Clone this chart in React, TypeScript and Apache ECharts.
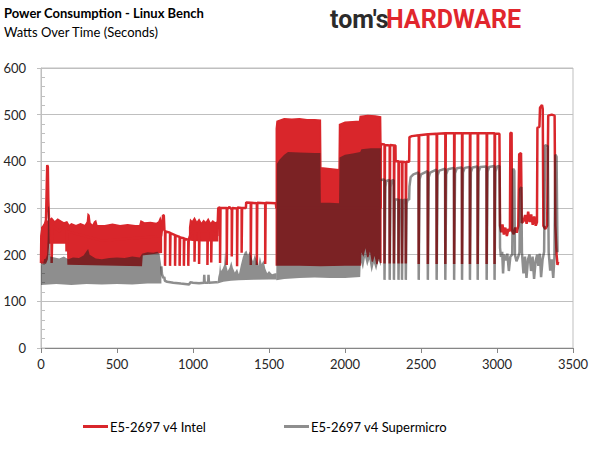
import React, { useEffect, useRef } from "react";
import * as echarts from "echarts";

const RED = "#d9262b";
const GRAY = "rgba(29,29,29,0.5)";
const INTEL = "E5-2697 v4 Intel";
const SUPER = "E5-2697 v4 Supermicro";

const xTicks = [0, 500, 1000, 1500, 2000, 2500, 3000, 3500];
const yTicks = [0, 100, 200, 300, 400, 500, 600];

// ---- Intel (red) ----
const intelLine = [
  [0, 182], [2, 240], [10, 258], [25, 262], [33, 275], [38, 350], [41, 392], [45, 388], [48, 320], [52, 280], [58, 262],
  [68, 262], [70, 182], [73, 182], [75, 262], [120, 250],
  [166, 262], [168, 207], [171, 207], [173, 250], [400, 230], [790, 240],
  [798, 260], [803, 285], [808, 284], [812, 252],
  [816, 250], [816, 176], [819, 176], [819, 250],
  [849, 247], [849, 176], [852, 176], [852, 246],
  [882, 242], [882, 176], [885, 176], [885, 241],
  [912, 238], [912, 176], [915, 176], [915, 237],
  [940, 235], [940, 176], [943, 176], [943, 234],
  [969, 232], [969, 176], [972, 176], [972, 232],
  [980, 240],
  [1010, 250], [1010, 185], [1013, 185], [1013, 250],
  [1040, 250], [1040, 180], [1043, 180], [1043, 250],
  [1095, 250], [1095, 178], [1098, 178], [1098, 250],
  [1120, 250], [1120, 183], [1123, 183], [1123, 250],
  [1160, 240], [1164, 240], [1166, 300],
  [1178, 301], [1178, 182], [1181, 182], [1181, 300],
  [1222, 300], [1222, 178], [1225, 178], [1225, 298],
  [1240, 302], [1255, 297], [1255, 196], [1258, 196], [1258, 300],
  [1290, 299], [1290, 175], [1293, 175], [1293, 301],
  [1320, 300], [1320, 204], [1323, 204], [1323, 300],
  [1348, 300], [1350, 312],
  [1380, 311], [1380, 178], [1383, 178], [1383, 311],
  [1420, 310], [1420, 178], [1423, 178], [1423, 311],
  [1475, 310], [1475, 180], [1478, 180], [1478, 311],
  [1545, 310], [1548, 300], [2235, 300], [2236, 437],
  [2260, 436], [2260, 181], [2263, 181], [2263, 435],
  [2294, 434], [2294, 181], [2297, 181], [2297, 435],
  [2322, 434], [2322, 181], [2325, 181], [2325, 434],
  [2332, 434], [2333, 400],
  [2352, 400], [2352, 181], [2355, 181], [2355, 399],
  [2375, 399], [2375, 181], [2378, 181], [2378, 399],
  [2400, 398], [2400, 181], [2403, 181], [2403, 399],
  [2422, 399], [2424, 452], [2440, 454],
  [2485, 456], [2485, 180], [2488, 180], [2488, 456],
  [2545, 458], [2545, 180], [2548, 180], [2548, 458],
  [2603, 459], [2603, 180], [2606, 180], [2606, 459],
  [2660, 460], [2660, 180], [2663, 180], [2663, 460],
  [2718, 460], [2718, 180], [2721, 180], [2721, 460],
  [2770, 460], [2770, 180], [2773, 180], [2773, 460],
  [2822, 460], [2822, 180], [2825, 180], [2825, 460],
  [2873, 460], [2873, 180], [2876, 180], [2876, 460],
  [2932, 460], [2932, 180], [2935, 180], [2935, 460],
  [2984, 460], [2984, 180], [2987, 180], [2987, 459],
  [3016, 459], [3020, 262],
  [3028, 248], [3036, 265], [3045, 243], [3055, 258], [3065, 240], [3075, 255], [3085, 250],
  [3088, 460], [3096, 462], [3099, 252],
  [3110, 244], [3120, 258], [3130, 247], [3140, 262],
  [3146, 415], [3158, 418], [3163, 268],
  [3175, 272], [3185, 285], [3195, 266], [3205, 292], [3215, 270], [3225, 286], [3235, 264], [3245, 282], [3255, 262],
  [3263, 270], [3266, 472], [3279, 474], [3283, 515], [3296, 521], [3301, 512], [3305, 262],
  [3318, 255], [3330, 262], [3337, 498], [3360, 500], [3379, 498], [3384, 262], [3392, 200], [3398, 178], [3402, 185],
];

const intelBand1Top = [
  [0, 250], [5, 258], [15, 262], [30, 270], [36, 270], [55, 274], [70, 278], [90, 270], [110, 276], [130, 272],
  [150, 268], [170, 270], [185, 262], [200, 266], [230, 262], [260, 266], [290, 262], [305, 270], [310, 286],
  [316, 284], [322, 268], [340, 262], [352, 270], [360, 272], [368, 262], [420, 262], [470, 265], [520, 262],
  [570, 264], [620, 262], [650, 262], [658, 272], [680, 268], [720, 269], [760, 267], [775, 270], [785, 278], [792, 272],
];
const intelBand1Bottom = [
  [0, 182], [30, 182], [40, 190], [50, 225], [175, 225], [178, 180], [660, 177], [665, 200], [792, 205],
];
const intelBand2Top = [
  [978, 258], [984, 274], [995, 270], [1010, 278], [1025, 268], [1040, 275], [1055, 266], [1070, 273],
  [1085, 268], [1100, 276], [1115, 266], [1130, 272], [1145, 268], [1160, 270], [1162, 250],
];
const intelBand2Bottom = [[978, 232], [1000, 231], [1060, 230], [1162, 230]];
const intelBand3Top = [
  [1548, 470], [1553, 486], [1600, 491], [1650, 490], [1700, 491], [1750, 489], [1800, 489], [1838, 488],
  [1841, 386], [1900, 384], [1961, 382], [1964, 479], [2000, 484], [2050, 485], [2096, 486], [2100, 496],
  [2150, 498], [2200, 497], [2234, 495], [2236, 440],
];
const intelBand3Bottom = [
  [1548, 178], [1700, 178], [1840, 177], [2000, 178], [2100, 178], [2104, 212], [2120, 200], [2135, 222],
  [2150, 195], [2165, 215], [2180, 185], [2195, 205], [2210, 180], [2222, 200], [2236, 182],
];

// ---- Supermicro (gray) ----
const superBand1Top = [
  [0, 175], [6, 188], [12, 178], [20, 190], [32, 192], [40, 200], [44, 235], [47, 302], [53, 304], [56, 235],
  [60, 196], [90, 194], [120, 192], [150, 196], [180, 190], [210, 194], [250, 193], [280, 198], [300, 208],
  [310, 212], [320, 200], [360, 192], [400, 190], [450, 193], [500, 194], [550, 193], [600, 196], [650, 194],
  [665, 202], [700, 205], [740, 204], [765, 206], [780, 202], [792, 175],
];
const superBand1Bottom = [
  [0, 135], [100, 137], [200, 135], [300, 137], [400, 136], [500, 137], [600, 136], [700, 138], [792, 138],
];
const superLineA = [
  [792, 175], [796, 158], [805, 150], [811, 152], [815, 144], [830, 142], [870, 140], [920, 138], [975, 136],
  [982, 141], [1000, 140], [1040, 139], [1072, 140], [1074, 157], [1077, 140], [1100, 140], [1102, 157],
  [1105, 140], [1150, 141], [1162, 141],
];
const superBand2Top = [
  [1162, 141], [1166, 152], [1172, 160], [1178, 182], [1184, 165], [1195, 170], [1205, 178], [1211, 207],
  [1217, 180], [1228, 165], [1240, 172], [1252, 186], [1262, 172], [1275, 162], [1290, 170], [1302, 158],
  [1315, 178], [1328, 195], [1340, 205], [1352, 209], [1362, 198], [1372, 207], [1384, 194], [1395, 186],
  [1406, 200], [1418, 188], [1430, 176], [1440, 196], [1452, 180], [1464, 188], [1476, 170], [1488, 160],
  [1500, 165], [1520, 158], [1540, 160], [1548, 160],
];
const superBand2Bottom = [
  [1162, 138], [1200, 142], [1250, 144], [1300, 145], [1400, 146], [1500, 147], [1548, 147],
];
const superBand3Top = [
  [1548, 160], [1552, 395], [1570, 404], [1600, 414], [1625, 420], [1700, 419], [1800, 418], [1838, 418],
  [1841, 311], [1900, 311], [1961, 310], [1964, 408], [2000, 414], [2050, 417], [2100, 420], [2108, 426],
  [2170, 428], [2236, 428],
];
const superBand3Bottom = [
  [1548, 145], [1600, 148], [1700, 150], [1800, 151], [1900, 150], [2000, 150], [2100, 152], [2104, 185],
  [2118, 168], [2132, 195], [2146, 175], [2160, 190], [2175, 162], [2190, 182], [2205, 166], [2220, 188], [2236, 175],
];
const superLineB = [
  [2236, 360], [2258, 361], [2260, 146], [2264, 146], [2266, 345], [2272, 358], [2292, 360], [2294, 146],
  [2298, 146], [2300, 345], [2306, 358], [2320, 360], [2322, 146], [2326, 146], [2328, 318],
  [2350, 318], [2352, 146], [2356, 146], [2358, 308], [2364, 317], [2373, 318], [2375, 146], [2379, 146],
  [2381, 308], [2387, 317], [2398, 318], [2400, 146], [2404, 146], [2406, 310], [2412, 318], [2422, 318],
  [2424, 346], [2432, 366], [2450, 372], [2483, 376],
  [2485, 146], [2489, 146], [2491, 362], [2500, 372], [2543, 379], [2545, 146], [2549, 146], [2551, 366],
  [2560, 376], [2601, 382], [2603, 146], [2607, 146], [2609, 370], [2620, 380], [2658, 384], [2660, 146],
  [2664, 146], [2666, 372], [2677, 383], [2716, 386], [2718, 146], [2722, 146], [2724, 374], [2735, 385],
  [2768, 387], [2770, 146], [2774, 146], [2776, 376], [2787, 386], [2820, 388], [2822, 146], [2826, 146],
  [2828, 377], [2839, 387], [2871, 389], [2873, 146], [2877, 146], [2879, 378], [2890, 388], [2930, 389],
  [2932, 146], [2936, 146], [2938, 378], [2949, 388], [2982, 390], [2984, 146], [2988, 146], [2990, 378],
  [3001, 389], [3016, 390],
  [3020, 215], [3026, 195], [3034, 206], [3040, 160], [3046, 200], [3058, 188], [3068, 202], [3078, 165],
  [3088, 196], [3100, 200], [3106, 384], [3114, 380], [3118, 200], [3128, 186], [3140, 196], [3148, 205],
  [3152, 340], [3160, 345], [3164, 205], [3174, 160], [3184, 196], [3194, 150], [3204, 190], [3214, 200],
  [3224, 165], [3234, 196], [3244, 148], [3254, 186], [3264, 200], [3272, 176], [3282, 202], [3290, 152],
  [3300, 190], [3310, 206], [3316, 435], [3334, 432], [3340, 205], [3350, 166], [3360, 190], [3370, 150],
  [3378, 196], [3384, 414], [3392, 410], [3398, 205],
];

const intelBands = [
  { top: intelBand1Top, bottom: intelBand1Bottom },
  { top: intelBand2Top, bottom: intelBand2Bottom },
  { top: intelBand3Top, bottom: intelBand3Bottom },
];
const superBands = [
  { top: superBand1Top, bottom: superBand1Bottom },
  { top: superBand2Top, bottom: superBand2Bottom },
  { top: superBand3Top, bottom: superBand3Bottom },
];

const FONT = "Lato";

function bandSeries(name: string, bands: any[], fill: string, stroke: boolean, z: number) {
  return {
    type: "custom",
    name,
    z,
    silent: true,
    clip: true,
    coordinateSystem: "cartesian2d",
    encode: { x: 0, y: 1 },
    data: bands.map((b) => b.top[0]),
    renderItem: (params: any, api: any) => {
      const b = bands[params.dataIndex];
      const pts = [
        ...b.top.map((p: number[]) => api.coord(p)),
        ...b.bottom.slice().reverse().map((p: number[]) => api.coord(p)),
      ];
      return {
        type: "polygon",
        shape: { points: pts },
        style: stroke ? { fill, stroke: fill, lineWidth: 1.5 } : { fill, stroke: "none" },
      };
    },
  };
}

function lineSeries(name: string, data: number[][], color: string, z: number) {
  return {
    type: "line",
    name,
    z,
    data,
    symbol: "none",
    showSymbol: false,
    clip: true,
    lineStyle: { color, width: 2.5 },
    itemStyle: { color },
    emphasis: { disabled: true },
  };
}

export default function App() {
  const ref = useRef<HTMLDivElement>(null);
  useEffect(() => {
    document.body.style.margin = "0";
    const chart = echarts.init(ref.current as HTMLDivElement, null, { renderer: "svg" });
    const legendBase = {
      icon: "rect",
      itemWidth: 25,
      itemHeight: 3,
      itemGap: 0,
      padding: 0,
      top: 420,
      selectedMode: false,
      textStyle: { fontFamily: FONT, fontSize: 13, color: "#000", padding: [0, 0, 0, -3] },
    };
    chart.setOption({
      animation: false,
      grid: { left: 41, right: 25, top: 68, bottom: 126, show: true, borderColor: "#bfbfbf", borderWidth: 1 },
      xAxis: {
        type: "value",
        min: xTicks[0],
        max: xTicks[xTicks.length - 1],
        interval: 500,
        axisLine: { show: true, onZero: false, lineStyle: { color: "#868686" } },
        axisTick: { show: true, length: 5, lineStyle: { color: "#868686" } },
        axisLabel: { color: "#262626", fontSize: 13, fontFamily: FONT, margin: 9, formatter: (v: number) => String(v) },
        splitLine: { show: false },
      },
      yAxis: [
        {
          type: "value",
          min: yTicks[0],
          max: yTicks[yTicks.length - 1],
          interval: 100,
          axisLine: { show: true, lineStyle: { color: "#bfbfbf" } },
          axisTick: { show: true, length: 4, lineStyle: { color: "#bfbfbf" } },
          axisLabel: { color: "#262626", fontSize: 13, fontFamily: FONT, margin: 15, formatter: (v: number) => String(v) },
          splitLine: { show: true, lineStyle: { color: "#bfbfbf" } },
        },
        {
          type: "value",
          position: "left",
          min: 0,
          max: 600,
          interval: 20,
          axisLine: { show: false },
          axisTick: { show: true, inside: true, length: 4, lineStyle: { color: "#bfbfbf" } },
          axisLabel: { show: false },
          splitLine: { show: false },
        },
      ],
      legend: [
        { ...legendBase, left: 83, data: [INTEL] },
        { ...legendBase, left: 284, data: [SUPER] },
      ],
      graphic: [
        {
          type: "text",
          left: 4,
          top: 6,
          style: { text: "Power Consumption - Linux Bench", fontFamily: FONT, fontWeight: "bold", fontSize: 13, fill: "#000" },
        },
        {
          type: "text",
          left: 4,
          top: 25,
          style: { text: "Watts Over Time (Seconds)", fontFamily: FONT, fontSize: 13, fill: "#000" },
        },
        {
          type: "text",
          left: 330,
          top: 7,
          style: { text: "tom's", fontFamily: "Roboto", fontWeight: "bold", fontSize: 25, fill: "#2b2b2b" },
        },
        {
          type: "text",
          left: 386,
          top: 7,
          style: { text: "HARDWARE", fontFamily: "Roboto", fontWeight: "bold", fontSize: 25, fill: "#e1262d" },
        },
      ],
      series: [
        bandSeries("intelBands", intelBands, RED, true, 1),
        lineSeries(INTEL, intelLine, RED, 2),
        bandSeries("superBands", superBands, GRAY, false, 3),
        lineSeries(SUPER, superLineA, GRAY, 4),
        lineSeries(SUPER, superLineB, GRAY, 4),
      ],
    });
    return () => chart.dispose();
  }, []);
  return <div ref={ref} style={{ width: 598, height: 474 }} />;
}
